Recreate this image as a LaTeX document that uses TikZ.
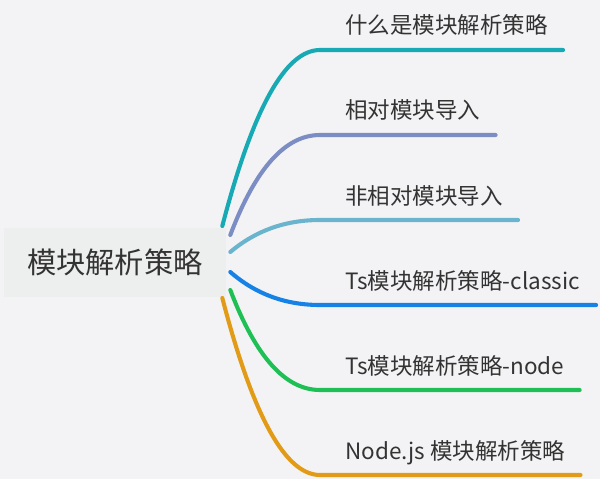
\documentclass[tikz,border=0pt]{standalone}
\usepackage{fontspec}
\setmainfont{Noto Sans CJK SC}
\usepackage{xcolor}
\usetikzlibrary{positioning}
\definecolor{bgGray}{HTML}{F3F3F5}
\definecolor{rootGray}{HTML}{EDEEEE}
\definecolor{txtGray}{HTML}{333333}
\definecolor{palTeal}{HTML}{17A9B4}
\definecolor{palSlate}{HTML}{7B8DC2}
\definecolor{palSky}{HTML}{6AB4CE}
\definecolor{palBlue}{HTML}{1782E6}
\definecolor{palGreen}{HTML}{1EBF55}
\definecolor{palOrange}{HTML}{E29B17}

\begin{document}
\begin{tikzpicture}[
  x=0.025cm, y=-0.025cm,
  root/.style={fill=rootGray, text=txtGray, minimum width=5.55cm, minimum height=1.725cm,
    inner sep=0pt, font=\fontsize{20.8}{24}\selectfont},
  leaf/.style={anchor=base west, inner sep=0pt, text=txtGray, font=\fontsize{16}{19}\selectfont},
  branch/.style={line width=2.9pt, line cap=round},
]
\fill[bgGray] (0,0) rectangle (600,479);

\node[root] (root) at (115,262.5) {模块解析策略};

\node[leaf] (what) at (345,34) {什么是模块解析策略};
\node[leaf] (rel) at (345,119) {相对模块导入};
\node[leaf] (nonrel) at (345,205) {非相对模块导入};
\node[leaf] (classic) at (345,289) {Ts模块解析策略-classic};
\node[leaf] (tsnode) at (345,374) {Ts模块解析策略-node};
\node[leaf] (nodejs) at (345,459) {Node.js 模块解析策略};

\coordinate (e1) at (320,50);
\coordinate (e2) at (320,135);
\coordinate (e3) at (320,220);
\coordinate (e4) at (320,305);
\coordinate (e5) at (320,390);
\coordinate (e6) at (320,475);

% branches, each ends in the underline of its label
\draw[branch, palTeal] ([shift={(-4,-36.5)}]root.east) .. controls +(30.7,-117.3) and +(-34.7,0) .. (e1) -- ([xshift=0.375cm]what.east |- e1);
\draw[branch, palSlate] ([shift={(4,-27.5)}]root.east) .. controls +(25.3,-66.7) and +(-34.7,0) .. (e2) -- ([xshift=0.375cm]rel.east |- e2);
\draw[branch, palSky] ([shift={(4,-10.5)}]root.east) .. controls +(25.3,-21.3) and +(-34.7,0) .. (e3) -- ([xshift=0.375cm]nonrel.east |- e3);
\draw[branch, palBlue] ([shift={(4,9.5)}]root.east) .. controls +(25.3,22) and +(-34.7,0) .. (e4) -- ([xshift=0.4cm]classic.east |- e4);
\draw[branch, palGreen] ([shift={(4,27.5)}]root.east) .. controls +(25.3,66.7) and +(-34.7,0) .. (e5) -- ([xshift=0.375cm]tsnode.east |- e5);
\draw[branch, palOrange] ([shift={(-4,35.5)}]root.east) .. controls +(30.7,118) and +(-34.7,0) .. (e6) -- ([xshift=0.375cm]nodejs.east |- e6);
\end{tikzpicture}
\end{document}
